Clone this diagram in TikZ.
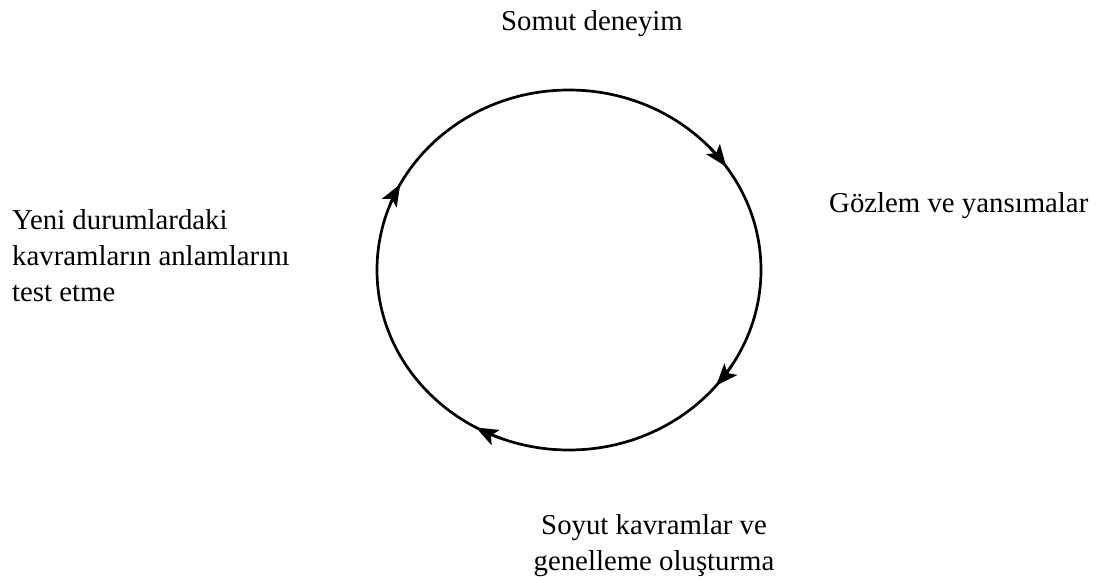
\documentclass[tikz,border=0pt]{standalone}
\usepackage{fontspec}
\setmainfont{Liberation Serif}
\usetikzlibrary{arrows.meta}
\tikzset{
  lbl/.style={inner sep=0pt, font=\fontsize{28.8}{36}\selectfont},
  ring/.style={line width=2.7pt, black},
  tip/.style={line width=2.7pt, -{Stealth[length=22pt,width=17pt,inset=5pt]}}
}
\begin{document}
\begin{tikzpicture}[x=1pt,y=1pt]
\useasboundingbox (0,0) rectangle (1105,582);
\coordinate (c) at (569,312);
\draw[ring] (c) ellipse [x radius=192, y radius=180];
\foreach \t [count=\i] in {35,-40,-119,151.5}{
  \draw[tip] (c) ++(\t+8:192 and 180) coordinate (s\i) arc[start angle=\t+8, end angle=\t, x radius=192, y radius=180] coordinate (e\i);
}
\node[lbl, anchor=base] (top) at (592,551) {Somut deneyim};
\node[lbl, anchor=base west] (right) at (829,370) {Gözlem ve yansımalar};
\node[lbl, anchor=base west, align=left] (left) at (12,281) {Yeni durumlardaki\\kavramların anlamlarını\\test etme};
\node[lbl, anchor=base, align=center] (bottom) at (654,12) {Soyut kavramlar ve\\genelleme oluşturma};
\end{tikzpicture}
\end{document}
